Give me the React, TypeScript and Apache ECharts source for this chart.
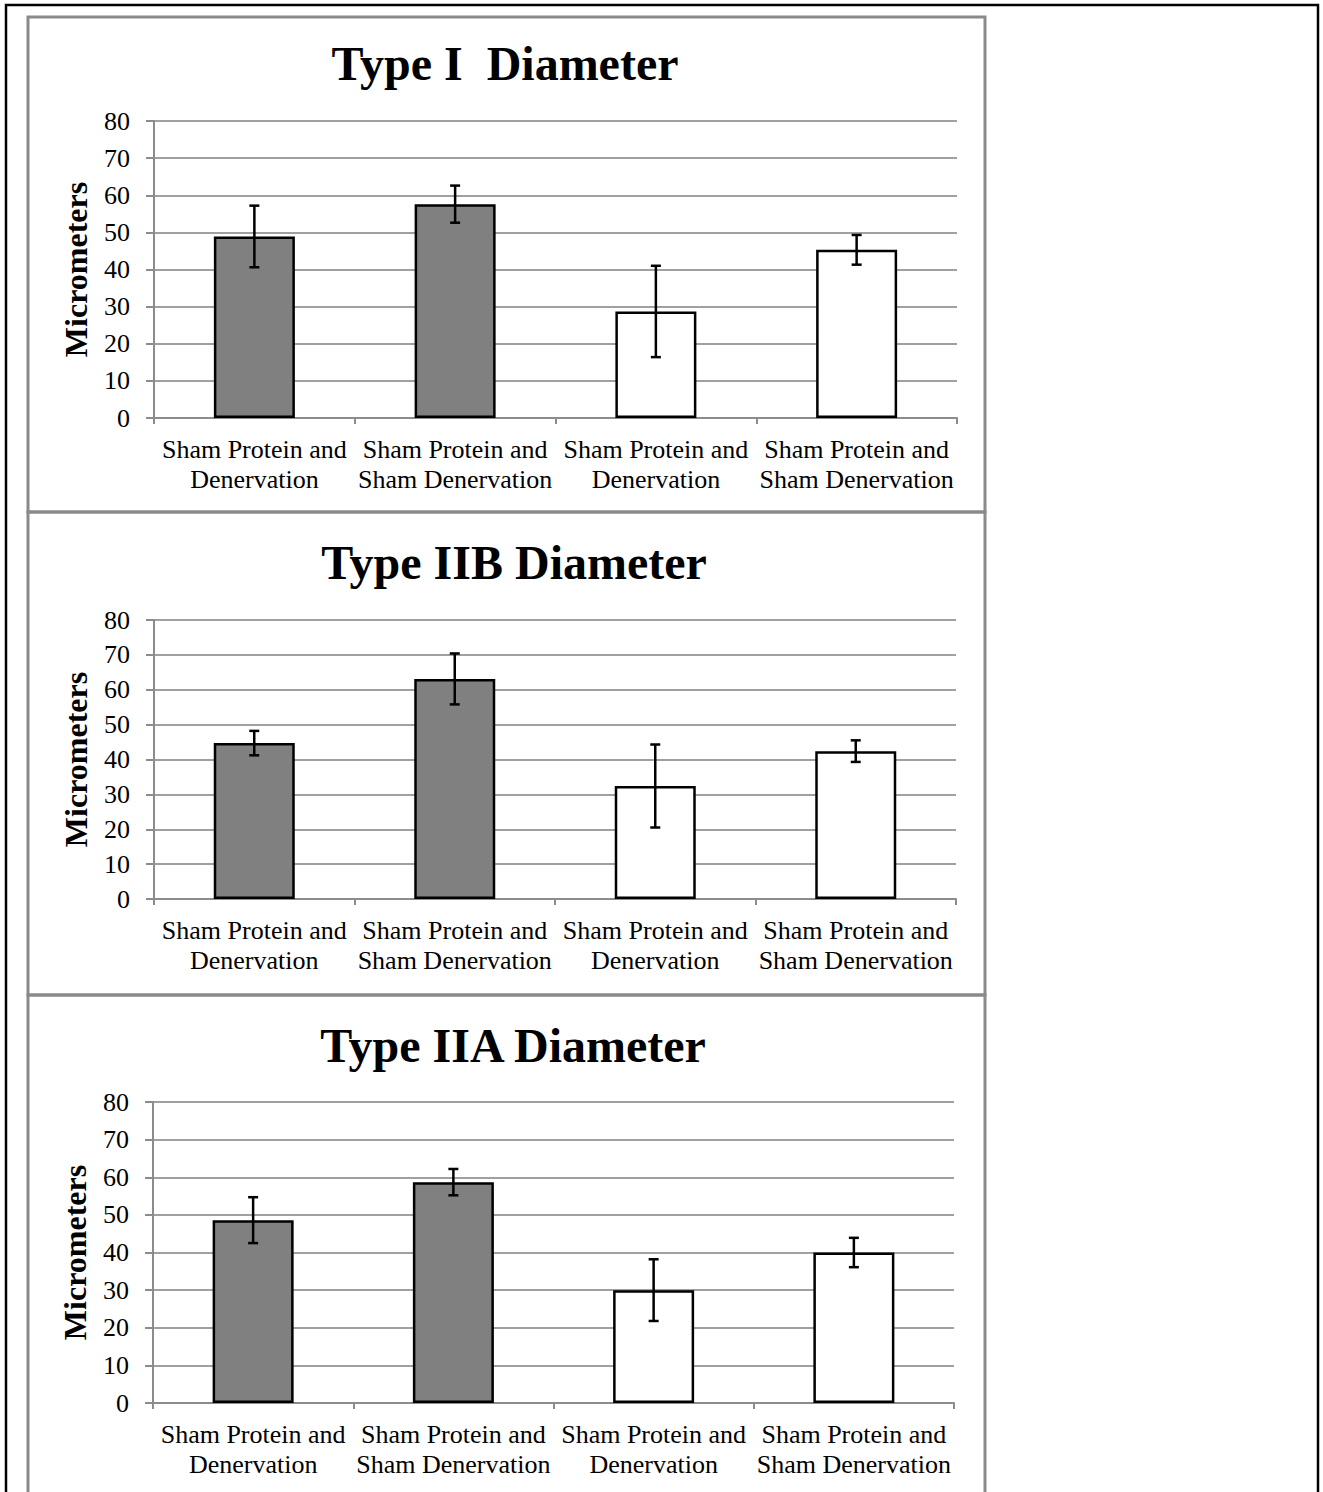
import React, { useEffect, useRef } from "react";
import * as echarts from "echarts";

const categories = [
  "Sham Protein and\nDenervation",
  "Sham Protein and\nSham Denervation",
  "Sham Protein and\nDenervation",
  "Sham Protein and\nSham Denervation",
];

const panelTitles = ["Type I  Diameter", "Type IIB Diameter", "Type IIA Diameter"];

const typeIMeans = [48.9, 57.6, 28.7, 45.3];
const typeIErr = [8.3, 5.0, 12.3, 4.0];

const typeIIBMeans = [44.7, 63.1, 32.4, 42.4];
const typeIIBErr = [3.5, 7.3, 11.9, 3.1];

const typeIIAMeans = [48.6, 58.7, 30.0, 40.0];
const typeIIAErr = [6.1, 3.5, 8.2, 3.9];

const yTicks = { min: 0, max: 80, interval: 10 };
const yAxisName = "Micrometers";

const FONT = "'Liberation Serif', 'Times New Roman', serif";
const barFills = ["#808080", "#808080", "#ffffff", "#ffffff"];

const grids = [
  { left: 154, width: 803, top: 121, height: 297 },
  { left: 154, width: 802, top: 620, height: 279 },
  { left: 153, width: 801, top: 1102, height: 301 },
];
const panelRects = [
  { x: 28, y: 17, h: 495 },
  { x: 28, y: 512, h: 483 },
  { x: 28, y: 995, h: 600 },
];
const titleX = [505, 514, 513];
const titleY = [63, 562, 1045];

export default function App() {
  const ref = useRef<HTMLDivElement>(null);
  useEffect(() => {
    if (!ref.current) return;
    const chart = echarts.init(ref.current, null, { renderer: "svg" });
    const allMeans = [typeIMeans, typeIIBMeans, typeIIAMeans];
    const allErr = [typeIErr, typeIIBErr, typeIIAErr];
    const axisGray = "#8c8c8c";

    const xAxis = grids.map((_, i) => ({
      type: "category",
      gridIndex: i,
      data: categories,
      axisLine: { show: true, lineStyle: { color: axisGray, width: 2 } },
      axisTick: { show: true, length: 6, alignWithLabel: false, lineStyle: { color: axisGray, width: 2 } },
      axisLabel: {
        interval: 0,
        fontFamily: FONT,
        fontSize: 26,
        lineHeight: 30,
        color: "#000",
        margin: 16,
      },
      splitLine: { show: false },
    }));
    const yAxis = grids.map((_, i) => ({
      type: "value",
      gridIndex: i,
      min: yTicks.min,
      max: yTicks.max,
      interval: yTicks.interval,
      name: yAxisName,
      nameLocation: "middle",
      nameGap: 62,
      nameTextStyle: { fontFamily: FONT, fontWeight: "bold", fontSize: 32, color: "#000" },
      axisLine: { show: true, lineStyle: { color: axisGray, width: 2 } },
      axisTick: { show: true, length: 8, lineStyle: { color: axisGray, width: 2 } },
      axisLabel: { fontFamily: FONT, fontSize: 26, color: "#000", margin: 24 },
      splitLine: { show: true, lineStyle: { color: "#a0a0a0", width: 2 } },
    }));

    const series: any[] = [];
    allMeans.forEach((means, i) => {
      series.push({
        type: "bar",
        xAxisIndex: i,
        yAxisIndex: i,
        data: means,
        barWidth: 81,
        itemStyle: {
          color: (p: any) => barFills[p.dataIndex],
          borderColor: "#000",
          borderWidth: 2.5,
        },
        z: 3,
      });
      series.push({
        type: "custom",
        xAxisIndex: i,
        yAxisIndex: i,
        data: means.map((m, j) => [j, m - allErr[i][j], m + allErr[i][j]]),
        encode: { x: 0, y: [1, 2] },
        z: 5,
        renderItem: (params: any, api: any) => {
          const x = api.value(0);
          const pLo = api.coord([x, api.value(1)]);
          const pHi = api.coord([x, api.value(2)]);
          const cap = 5;
          const st = { stroke: "#000", lineWidth: 2.5 };
          return {
            type: "group",
            children: [
              { type: "line", shape: { x1: pHi[0], y1: pHi[1], x2: pLo[0], y2: pLo[1] }, style: st },
              { type: "line", shape: { x1: pHi[0] - cap, y1: pHi[1], x2: pHi[0] + cap, y2: pHi[1] }, style: st },
              { type: "line", shape: { x1: pLo[0] - cap, y1: pLo[1], x2: pLo[0] + cap, y2: pLo[1] }, style: st },
            ],
          };
        },
      });
    });

    const graphic: any[] = [
      {
        type: "rect",
        shape: { x: 6, y: 5, width: 1312, height: 1600 },
        style: { fill: "none", stroke: "#000", lineWidth: 2.5 },
        z: 0,
      },
    ];
    panelRects.forEach((r) => {
      graphic.push({
        type: "rect",
        shape: { x: r.x, y: r.y, width: 957, height: r.h },
        style: { fill: "none", stroke: "#8a8a8a", lineWidth: 3 },
        z: 0,
      });
    });
    panelTitles.forEach((t, i) => {
      graphic.push({
        type: "text",
        x: titleX[i],
        y: titleY[i],
        style: {
          text: t,
          fontFamily: FONT,
          fontWeight: "bold",
          fontSize: 48,
          fill: "#000",
          textAlign: "center",
          textVerticalAlign: "middle",
        },
        z: 10,
      });
    });

    chart.setOption({
      animation: false,
      backgroundColor: "#ffffff",
      grid: grids,
      xAxis,
      yAxis,
      series,
      graphic,
    });
    return () => chart.dispose();
  }, []);
  return (
    <div
      ref={ref}
      style={{ position: "absolute", left: 0, top: 0, width: 1323, height: 1492 }}
    />
  );
}
